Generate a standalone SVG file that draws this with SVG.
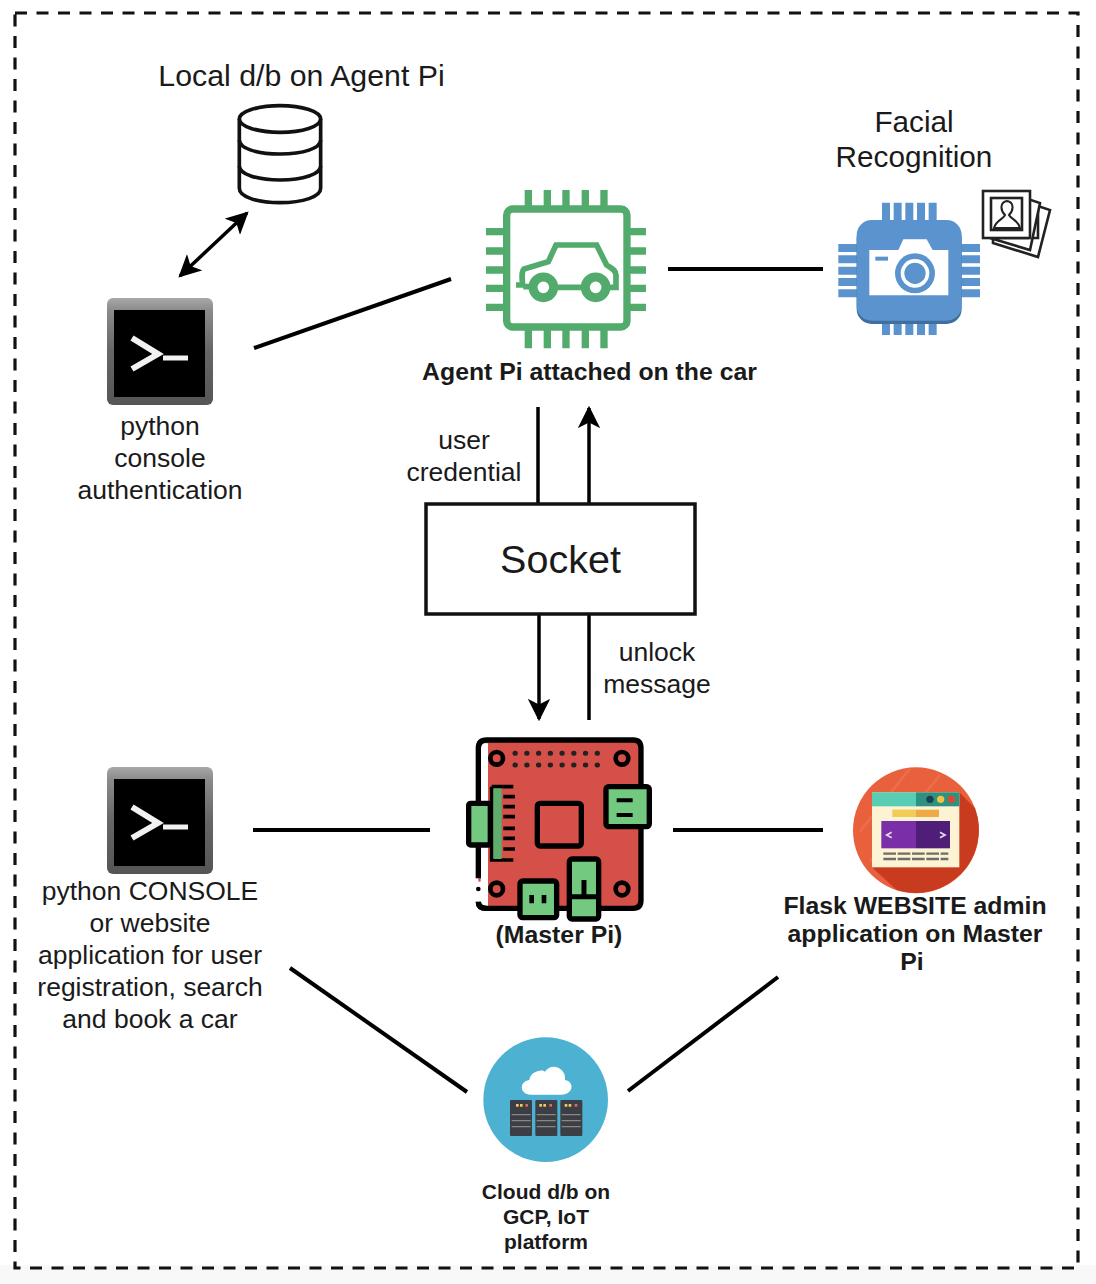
<svg xmlns="http://www.w3.org/2000/svg" width="1096" height="1284" viewBox="0 0 1096 1284">
<style>
text{font-family:"Liberation Sans",Arial,sans-serif;fill:#1a1a1a;text-anchor:middle}
.h{font-size:29.7px}
.l{font-size:26.5px}
.b{font-size:24.8px;font-weight:bold}
.c{font-size:21px;font-weight:bold}
.conn{stroke:#000;stroke-width:4;fill:none}
.thin{stroke:#000;stroke-width:3.5;fill:none}
</style>
<defs>
<marker id="arr" viewBox="0 0 10 10" refX="9" refY="5" markerWidth="6.4" markerHeight="6.4" orient="auto-start-reverse" markerUnits="strokeWidth"><path d="M0 0L10 5L0 10L2.5 5Z" fill="#000"/></marker>
<linearGradient id="bevel" x1="0" y1="0" x2="0" y2="1"><stop offset="0" stop-color="#a8a8a8"/><stop offset=".12" stop-color="#8a8a8a"/><stop offset=".5" stop-color="#666"/><stop offset="1" stop-color="#555"/></linearGradient>
<clipPath id="webclip"><circle cx="228" cy="226" r="189"/></clipPath>
<g id="term">
<rect x="0" y="0" width="106" height="107" rx="6" fill="url(#bevel)"/>
<rect x="7" y="12" width="91" height="87" fill="#000"/>
<path d="M25 40L51 56L25 71" fill="none" stroke="#f2f2f2" stroke-width="6"/>
<path d="M56 60H81" fill="none" stroke="#f2f2f2" stroke-width="5"/>
</g>
</defs>
<rect width="1096" height="1284" fill="#fff"/>
<rect y="1265" width="1096" height="19" fill="#f8f8f8"/>
<rect id="frame" x="15" y="13" width="1063" height="1255" fill="none" stroke="#111" stroke-width="3.2" stroke-dasharray="12 9.5"/>
<g id="connectors">
<path class="thin" d="M180 276L247 213" marker-start="url(#arr)" marker-end="url(#arr)"/>
<path class="conn" d="M254 348L451 279"/>
<path class="conn" d="M668 269H823"/>
<path class="thin" d="M538 407V504"/>
<path class="thin" d="M589 504V408" marker-end="url(#arr)"/>
<path class="thin" d="M539 615V719" marker-end="url(#arr)"/>
<path class="thin" d="M589 615V720"/>
<path class="conn" d="M253 830H430"/>
<path class="conn" d="M673 830H823"/>
<path class="conn" d="M290 968L467 1092"/>
<path class="conn" d="M778 977L628 1091"/>
</g>
<g id="local-db">
<text x="301.500" y="86" font-size="30.300">Local d/b on Agent Pi</text>
<g transform="translate(150 90) scale(.3333)" fill="none" stroke="#111" stroke-width="11">
<ellipse cx="390" cy="87" rx="122" ry="40" fill="#fff"/>
<path d="M268 87V295C268 320 320 338 390 338S512 320 512 295V87"/>
<path d="M268 150C268 175 320 192 390 192S512 175 512 150"/>
<path d="M268 228C268 252 320 270 390 270S512 252 512 228"/>
</g>
</g>
<g id="python-console-auth">
<use href="#term" x="107" y="298"/>
<text class="l" x="160" y="435">python</text>
<text class="l" x="160" y="467">console</text>
<text class="l" x="160" y="499">authentication</text>
</g>
<g id="agent-pi">
<g transform="translate(460 170) scale(.3333)" fill="none" stroke="#52ab6c">
<rect x="140" y="117" width="361" height="354" rx="18" stroke-width="22"/>
<path d="M205 110V60M262 110V60M318 110V60M376 110V60M432 110V60M205 480V535M262 480V535M318 480V535M376 480V535M432 480V535M130 185H78M130 243H78M130 300H78M130 355H78M130 412H78M510 185H558M510 243H558M510 300H558M510 355H558M510 412H558" stroke-width="22"/>
<path d="M168 345H188C186 325 184 305 192 297L265 275L288 225H410L440 285C455 295 468 300 468 315V352H440M365 352H290M215 350H190" stroke-width="17"/>
<circle cx="250" cy="352" r="31" fill="#fff" stroke-width="27"/>
<circle cx="407" cy="352" r="31" fill="#fff" stroke-width="27"/>
</g>
<text class="b" x="589.500" y="380">Agent Pi attached on the car</text>
</g>
<g id="facial-recognition">
<text class="h" x="914" y="132">Facial</text>
<text class="h" x="914" y="167">Recognition</text>
<g transform="translate(820 170) scale(.3333)">
<path d="M186 98h24v60h-24zM221 98h24v60h-24zM256 98h24v60h-24zM291 98h24v60h-24zM326 98h24v60h-24zM186 440h24v55h-24zM221 440h24v55h-24zM256 440h24v55h-24zM291 440h24v55h-24zM326 440h24v55h-24zM55 222h60v24h-60zM55 256h60v24h-60zM55 290h60v24h-60zM55 324h60v24h-60zM55 358h60v24h-60zM420 222h60v24h-60zM420 256h60v24h-60zM420 290h60v24h-60zM420 324h60v24h-60zM420 358h60v24h-60z" fill="#5b93cf"/>
<rect x="110" y="160" width="315" height="302" rx="45" fill="#3f6e9f"/>
<rect x="110" y="150" width="315" height="302" rx="45" fill="#5b93cf"/>
<path d="M148 240H235L250 208H320L338 240H385V376H148Z" fill="#fff"/>
<rect x="166" y="260" width="38" height="12" fill="#5b93cf"/>
<circle cx="285" cy="310" r="60" fill="#5b93cf"/>
<circle cx="285" cy="310" r="43" fill="#fff"/>
<circle cx="285" cy="310" r="32" fill="#5b93cf"/>
</g>
<g stroke="#222" stroke-width="2.6" fill="#fff">
<path d="M993 243L1038 257L1050 210L1038 206V238H993Z"/>
<path d="M990 238L1030 250L1040 203L1028 199V238Z"/>
<rect x="983" y="191" width="47" height="47"/>
<rect x="991" y="198" width="31" height="32"/>
<path d="M994 228C996 220 1004 219 1005 215C1000 210 1000 202 1007 201C1014 202 1014 210 1009 215C1011 219 1018 220 1020 228Z" stroke-width="2"/>
</g>
</g>
<g id="socket">
<rect x="426" y="504" width="269" height="110" fill="#fff" stroke="#111" stroke-width="3.5"/>
<text x="560.500" y="573" font-size="39.500">Socket</text>
</g>
<text class="l" x="464" y="449">user</text>
<text class="l" x="464" y="481">credential</text>
<text class="l" x="657" y="661">unlock</text>
<text class="l" x="657" y="693">message</text>
<g id="master-pi">
<g transform="translate(450 725) scale(.3333)" stroke="#000" stroke-width="16">
<rect x="85" y="45" width="488" height="505" rx="22" fill="#d6504a" stroke="none"/>
<path d="M92 55H114V545H92Z" fill="#fff" stroke="none"/>
<path d="M85 460V70Q85 45 110 45H550Q573 45 573 70V525Q573 550 550 550H110Q85 550 85 530" fill="none"/>
<path d="M85 470V530" stroke="#fff" stroke-width="18"/>
<path d="M85 530Q85 550 110 550" fill="none"/>
<circle cx="85" cy="492" r="7" stroke="none"/>
<g fill="none" stroke-width="14"><circle cx="140" cy="100" r="19"/><circle cx="516" cy="100" r="19"/><circle cx="140" cy="492" r="19"/><circle cx="516" cy="492" r="19"/></g>
<path d="M195 85H470M195 120H470" fill="none" stroke-width="15" stroke-linecap="round" stroke-dasharray="1 34.200" stroke="#222"/>
<rect x="262" y="235" width="132" height="128" rx="8" fill="#d6504a"/>
<path d="M125 185V405H190M125 185H190M160 215H195M160 245H195M160 275H195M160 310H195M160 340H195M160 372H195" fill="none" stroke-width="11"/>
<rect x="130" y="190" width="25" height="212" fill="#5dae6d" stroke="none"/>
<rect x="56" y="235" width="65" height="125" rx="6" fill="#73c97f"/>
<rect x="468" y="185" width="130" height="120" rx="8" fill="#73c97f"/>
<path d="M500 226H548M500 270H548" fill="none" stroke-width="12"/>
<rect x="210" y="468" width="110" height="110" rx="8" fill="#73c97f"/>
<path d="M245 510V535M282 510V535" fill="none" stroke-width="14"/>
<rect x="358" y="402" width="88" height="180" rx="8" fill="#73c97f"/>
<path d="M358 515H446M402 512V465" fill="none" stroke-width="15"/>
</g>
<text class="b" x="559" y="943">(Master Pi)</text>
</g>
<g id="python-console-web">
<use href="#term" x="107" y="767"/>
<text class="l" x="150" y="900">python CONSOLE</text>
<text class="l" x="150" y="932">or website</text>
<text class="l" x="150" y="964">application for user</text>
<text class="l" x="150" y="996">registration, search</text>
<text class="l" x="150" y="1028">and book a car</text>
</g>
<g id="flask-website">
<g transform="translate(840 755) scale(.3333)">
<circle cx="228" cy="226" r="189" fill="#e8603c"/>
<path d="M60 230L210 40M90 320L300 60M130 370L270 200" clip-path="url(#webclip)" stroke="#ec6d49" stroke-width="8" fill="none"/>
<path d="M96 337L170 405A189 189 0 0 0 405 160L358 112Z" fill="#c93b1e"/>
<rect x="96" y="112" width="262" height="225" fill="#fbf3d3"/>
<rect x="96" y="112" width="132" height="42" fill="#59cdb4"/>
<rect x="228" y="112" width="130" height="42" fill="#2e9283"/>
<circle cx="270" cy="133" r="11" fill="#1d3f52"/><circle cx="302" cy="133" r="11" fill="#f1c33f"/><circle cx="334" cy="133" r="11" fill="#d9482f"/>
<rect x="157" y="164" width="70" height="22" fill="#f3cc55"/>
<rect x="227" y="164" width="70" height="22" fill="#eeaa44"/>
<rect x="124" y="198" width="104" height="82" fill="#7a2fa8"/>
<rect x="228" y="198" width="102" height="82" fill="#4f1f78"/>
<path d="M155 232L140 240L155 248M300 232L315 240L300 248" fill="none" stroke="#e8d8f0" stroke-width="5"/>
<path d="M130 296H325M130 312H325" fill="none" stroke="#6f6d66" stroke-width="7" stroke-dasharray="38 5"/>
</g>
<text class="b" x="915" y="914">Flask WEBSITE admin</text>
<text class="b" x="915" y="942">application on Master</text>
<text class="b" x="912" y="970">Pi</text>
</g>
<g id="cloud-db">
<g transform="translate(470 1030) scale(.3333)">
<circle cx="227" cy="209" r="187" fill="#4db2d1"/>
<path d="M182 194C150 194 145 155 178 150C180 125 215 115 225 125C245 95 290 115 285 150C315 155 310 194 275 194Z" fill="#fff"/>
<g fill="#3b3f45">
<rect x="120" y="210" width="66" height="108" rx="3"/><rect x="196" y="210" width="66" height="108" rx="3"/><rect x="271" y="210" width="66" height="108" rx="3"/>
</g>
<path d="M125 254H332M125 272H332M125 290H332" stroke="#8a8684" stroke-width="4" stroke-dasharray="57 18" fill="none"/>
<path d="M138 226h8M150 226h8" stroke="#f2c660" stroke-width="8"/><path d="M166 226h8" stroke="#e2685a" stroke-width="8"/>
<path d="M208 226h8M220 226h8" stroke="#f2c660" stroke-width="8"/><path d="M238 226h8" stroke="#e2685a" stroke-width="8"/>
<path d="M284 226h8M296 226h8" stroke="#f2c660" stroke-width="8"/><path d="M314 226h8" stroke="#e2685a" stroke-width="8"/>
</g>
<text class="c" x="546" y="1199">Cloud d/b on</text>
<text class="c" x="546" y="1224">GCP, IoT</text>
<text class="c" x="546" y="1249">platform</text>
</g>
</svg>
